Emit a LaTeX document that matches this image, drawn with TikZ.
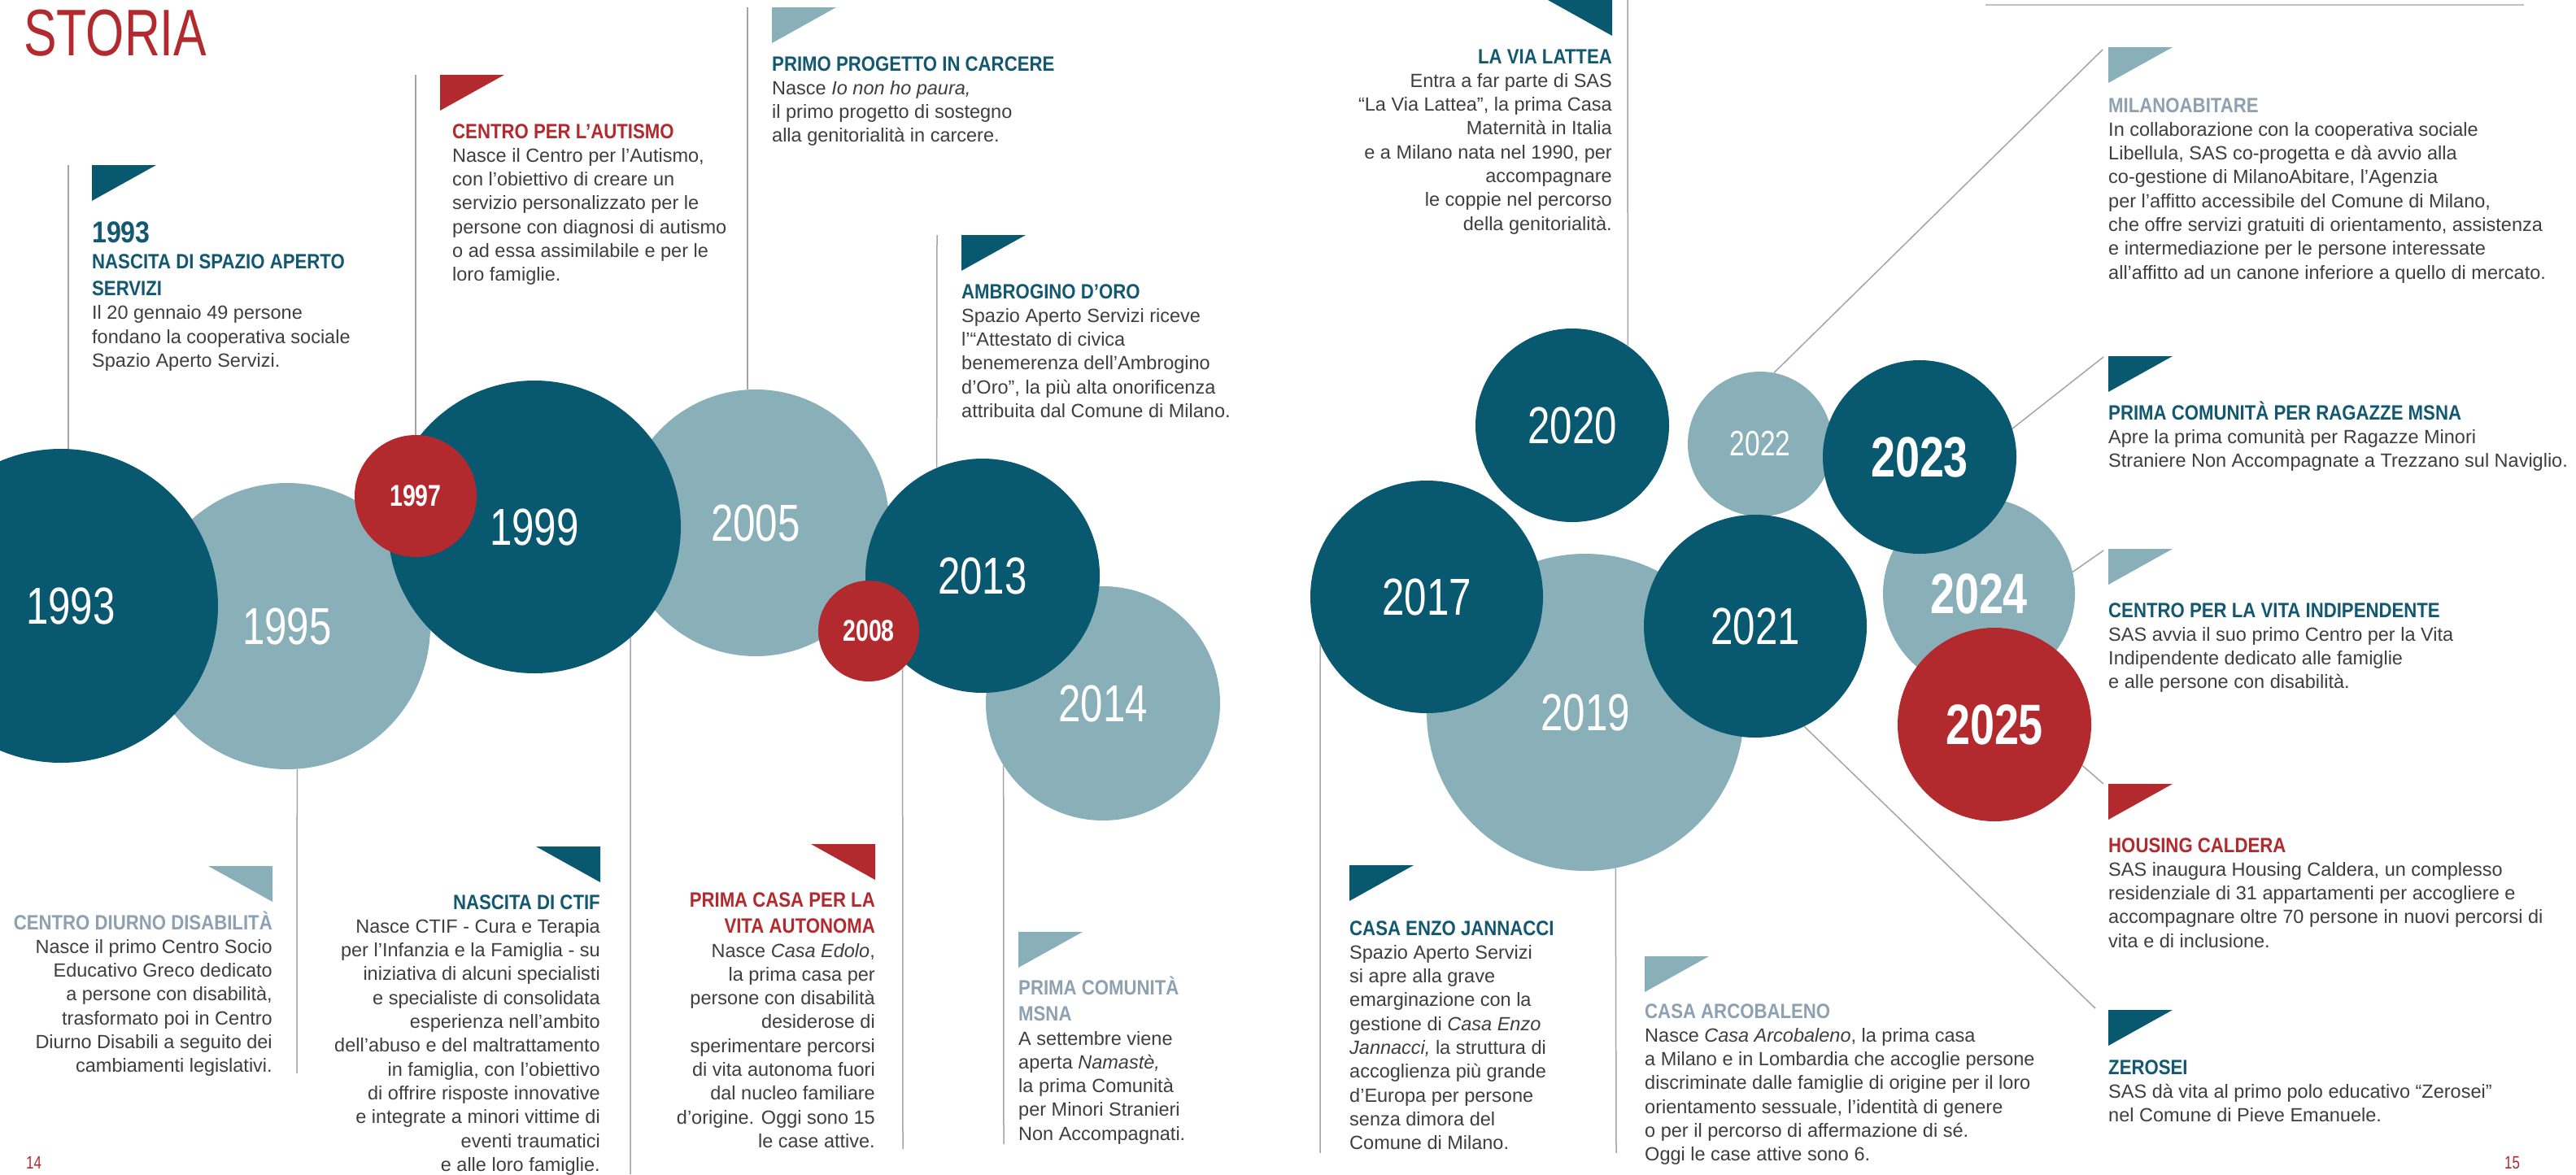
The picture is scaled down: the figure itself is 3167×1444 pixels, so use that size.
\documentclass[tikz,border=0pt]{standalone}
\usepackage{fontspec}
\setmainfont{Liberation Sans}
\newfontfamily\yearfont{Liberation Sans}[FakeStretch=0.77]
\newfontfamily\headfont{Liberation Sans}[FakeStretch=0.87]
\newfontfamily\titlefont{Liberation Sans}[FakeStretch=0.75]
\definecolor{dk}{RGB}{8,88,111}
\definecolor{lt}{RGB}{137,175,185}
\definecolor{rd}{RGB}{178,42,46}
\definecolor{hdk}{RGB}{18,88,112}
\definecolor{hlt}{RGB}{141,161,178}
\definecolor{txt}{RGB}{62,62,62}
\definecolor{ln}{RGB}{165,165,165}
\newcommand\evhead[2]{{\leavevmode\color{#1}\headfont\bfseries\fontsize{25.5}{32.7}\selectfont #2\par}}
\newcommand\evbody{\color{txt}\fontsize{23.5}{29.3}\selectfont}
\newcommand\yrR[1]{\yearfont\fontsize{#1}{#1}\selectfont}
\newcommand\yrB[1]{\yearfont\bfseries\fontsize{#1}{#1}\selectfont}
\newcommand\triL[3]{\fill[#1] (#2,#3) -- ++(79,0) -- ++(-79,44) -- cycle;}
\newcommand\triR[3]{\fill[#1] (#2,#3) -- ++(-79,0) -- ++(79,44) -- cycle;}
\begin{document}
\begin{tikzpicture}[x=1pt,y=-1pt,
  yc/.style={circle, inner sep=0pt, minimum size=#1, text=white},
  conn/.style={draw=ln, line width=1.5pt},
  blkL/.style={anchor=base west, inner sep=0pt},
  blkR/.style={anchor=base east, inner sep=0pt}]
\useasboundingbox (0,0) rectangle (3167,1444);
\fill[white] (0,0) rectangle (3167,1444);

% ---------- connector end points ----------
\coordinate (v1993) at (84,203);
\coordinate (v1997) at (511,92);
\coordinate (v2005) at (919,9);
\coordinate (v2013) at (1152,289);
\coordinate (v1995) at (365,1320);
\coordinate (v1999) at (775,1444);
\coordinate (v2008) at (1110,1413);
\coordinate (v2014) at (1234,1407);
\coordinate (v2020) at (2001,0);
\coordinate (v2017) at (1623,1418);
\coordinate (v2019) at (1987,1418);
\coordinate (m2022) at (2585,61);
\coordinate (m2023) at (2586,439);
\coordinate (m2024) at (2586,677);
\coordinate (m2025) at (2586,964);
\coordinate (m2021) at (2576,1240);
\coordinate (rl1) at (2441,6);
\coordinate (rl2) at (3103,6);

% ---------- circles (left page) ----------
\node[yc=352pt, fill=lt, font=\yrR{64}] (c1995) at (353,770) {1995};
\node[yc=386pt, fill=dk, font=\yrR{64}] (c1993) at (75,745) {\hspace*{24pt}1993};
\node[yc=328pt, fill=lt, font=\yrR{64}] (c2005) at (929,643) {2005};
\node[yc=360pt, fill=dk, font=\yrR{64}] (c1999) at (657,648) {1999};
\node[yc=150pt, fill=rd, font=\yrB{37}] (c1997) at (511,610) {1997};
\node[yc=288pt, fill=lt, font=\yrR{64}] (c2014) at (1356,865) {2014};
\node[yc=288pt, fill=dk, font=\yrR{64}] (c2013) at (1208,708) {2013};
\node[yc=124pt, fill=rd, font=\yrB{37}] (c2008) at (1068,776) {2008};

% ---------- circles (right page) ----------
\node[yc=390pt, fill=lt, font=\yrR{64}] (c2019) at (1949,876) {2019};
\node[yc=286pt, fill=dk, font=\yrR{64}] (c2017) at (1754,734) {2017};
\node[yc=238pt, fill=dk, font=\yrR{64}] (c2020) at (1933,523) {2020};
\node[yc=178pt, fill=lt, font=\yrR{43.5}] (c2022) at (2164,546) {2022};
\node[yc=274pt, fill=dk, font=\yrR{64}] (c2021) at (2158,770) {2021};
\node[yc=236pt, fill=lt, font=\yrB{70}] (c2024) at (2433,730) {2024};
\node[yc=238pt, fill=dk, font=\yrB{70}] (c2023) at (2360,562) {2023};
\node[yc=238pt, fill=rd, font=\yrB{70}] (c2025) at (2452,891) {2025};

% ---------- connectors ----------
\draw[conn] (v1993) -- (v1993 |- c1993.north);
\draw[conn] (v1997) -- (v1997 |- c1997.north);
\draw[conn] (v2005) -- (v2005 |- c2005.north);
\draw[conn] (v2013) -- (c2013.113);
\draw[conn] (v1995) -- (c1995.-86);
\draw[conn] (v1999) -- (c1999.-49);
\draw[conn] (v2008) -- (c2008.-48);
\draw[conn] (v2014) -- (c2014.-148);
\draw[conn] (v2020) -- (c2020.55);
\draw[conn] (v2017) -- (c2017.-156);
\draw[conn] (v2019) -- (c2019.-79);
\draw[conn] (m2022) -- (c2022.79);
\draw[conn] (m2023) -- (c2023.17);
\draw[conn] (m2024) -- (c2024.13);
\draw[conn] (m2025) -- (c2025.-25);
\draw[conn] (m2021) -- (c2021.-64);
\draw[draw=ln!70, line width=2pt] (rl1) -- (rl2);

% ---------- title and page numbers ----------
\node[anchor=base west, inner sep=0pt, text=rd, font=\titlefont\fontsize{81}{81}\selectfont] (title) at (29,68) {STORIA};
\node[anchor=base west, inner sep=0pt, text=rd, font=\yrR{22}] (p14) at (32,1437) {14};
\node[anchor=base west, inner sep=0pt, text=rd, font=\yrR{22}] (p15) at (3079,1437) {15};

% ---------- triangles ----------
\triL{dk}{113}{203}
\triL{rd}{541}{92}
\triL{lt}{949}{9}
\triL{dk}{1182}{289}
\triR{lt}{335}{1065}
\triR{dk}{738}{1041}
\triR{rd}{1076}{1038}
\triL{lt}{1252}{1146}
\triR{dk}{1982}{0}
\triL{dk}{1659}{1064}
\triL{lt}{2022}{1176}
\triL{lt}{2592}{58}
\triL{dk}{2592}{438}
\triL{lt}{2592}{675}
\triL{rd}{2592}{964}
\triL{dk}{2592}{1242}

% ---------- text blocks (left page) ----------
\node[blkL] (e1993) at (113,298) {\parbox[t]{600pt}{\raggedright
{\leavevmode\color{hdk}\headfont\bfseries\fontsize{37}{37}\selectfont 1993\par}%
\evhead{hdk}{NASCITA DI SPAZIO APERTO\\SERVIZI}%
\evbody Il 20 gennaio 49 persone\\fondano la cooperativa sociale\\Spazio Aperto Servizi.}};

\node[blkL] (eAut) at (556,170) {\parbox[t]{600pt}{\raggedright
\evhead{rd}{CENTRO PER L’AUTISMO}%
\evbody Nasce il Centro per l’Autismo,\\con l’obiettivo di creare un\\servizio personalizzato per le\\persone con diagnosi di autismo\\o ad essa assimilabile e per le\\loro famiglie.}};

\node[blkL] (ePrimo) at (949,87) {\parbox[t]{600pt}{\raggedright
\evhead{hdk}{PRIMO PROGETTO IN CARCERE}%
\evbody Nasce \textit{Io non ho paura,}\\il primo progetto di sostegno\\alla genitorialità in carcere.}};

\node[blkL] (eAmb) at (1182,367) {\parbox[t]{600pt}{\raggedright
\evhead{hdk}{AMBROGINO D’ORO}%
\evbody Spazio Aperto Servizi riceve\\l’“Attestato di civica\\benemerenza dell’Ambrogino\\d’Oro”, la più alta onorificenza\\attribuita dal Comune di Milano.}};

\node[blkR] (eDiurno) at (335,1143) {\parbox[t]{600pt}{\raggedleft
\evhead{hlt}{CENTRO DIURNO DISABILITÀ}%
\evbody Nasce il primo Centro Socio\\Educativo Greco dedicato\\a persone con disabilità,\\trasformato poi in Centro\\Diurno Disabili a seguito dei\\cambiamenti legislativi.}};

\node[blkR] (eCtif) at (738,1118) {\parbox[t]{600pt}{\raggedleft
\evhead{hdk}{NASCITA DI CTIF}%
\evbody Nasce CTIF - Cura e Terapia\\per l’Infanzia e la Famiglia - su\\iniziativa di alcuni specialisti\\e specialiste di consolidata\\esperienza nell’ambito\\dell’abuso e del maltrattamento\\in famiglia, con l’obiettivo\\di offrire risposte innovative\\e integrate a minori vittime di\\eventi traumatici\\e alle loro famiglie.}};

\node[blkR] (eCasa) at (1076,1115) {\parbox[t]{600pt}{\raggedleft
\evhead{rd}{PRIMA CASA PER LA\\VITA AUTONOMA}%
\evbody Nasce \textit{Casa Edolo},\\la prima casa per\\persone con disabilità\\desiderose di\\sperimentare percorsi\\di vita autonoma fuori\\dal nucleo familiare\\d’origine. Oggi sono 15\\le case attive.}};

\node[blkL] (eMsna) at (1252,1223) {\parbox[t]{600pt}{\raggedright
\evhead{hlt}{PRIMA COMUNITÀ\\MSNA}%
\evbody A settembre viene\\aperta \textit{Namastè,}\\la prima Comunità\\per Minori Stranieri\\Non Accompagnati.}};

% ---------- text blocks (right page) ----------
\node[blkR] (eLattea) at (1982,78) {\parbox[t]{600pt}{\raggedleft
\evhead{hdk}{LA VIA LATTEA}%
\evbody Entra a far parte di SAS\\“La Via Lattea”, la prima Casa\\Maternità in Italia\\e a Milano nata nel 1990, per\\accompagnare\\le coppie nel percorso\\della genitorialità.}};

\node[blkL] (eEnzo) at (1659,1150) {\parbox[t]{600pt}{\raggedright
\evhead{hdk}{CASA ENZO JANNACCI}%
\evbody Spazio Aperto Servizi\\si apre alla grave\\emarginazione con la\\gestione di \textit{Casa Enzo}\\\textit{Jannacci,} la struttura di\\accoglienza più grande\\d’Europa per persone\\senza dimora del\\Comune di Milano.}};

\node[blkL] (eArco) at (2022,1252) {\parbox[t]{800pt}{\raggedright
\evhead{hlt}{CASA ARCOBALENO}%
\evbody Nasce \textit{Casa Arcobaleno}, la prima casa\\a Milano e in Lombardia che accoglie persone\\discriminate dalle famiglie di origine per il loro\\orientamento sessuale, l’identità di genere\\o per il percorso di affermazione di sé.\\Oggi le case attive sono 6.}};

\node[blkL] (eMilano) at (2592,138) {\parbox[t]{800pt}{\raggedright
\evhead{hlt}{MILANOABITARE}%
\evbody In collaborazione con la cooperativa sociale\\Libellula, SAS co-progetta e dà avvio alla\\co-gestione di MilanoAbitare, l’Agenzia\\per l’affitto accessibile del Comune di Milano,\\che offre servizi gratuiti di orientamento, assistenza\\e intermediazione per le persone interessate\\all’affitto ad un canone inferiore a quello di mercato.}};

\node[blkL] (eRagazze) at (2592,516) {\parbox[t]{800pt}{\raggedright
\evhead{hdk}{PRIMA COMUNITÀ PER RAGAZZE MSNA}%
\evbody Apre la prima comunità per Ragazze Minori\\Straniere Non Accompagnate a Trezzano sul Naviglio.}};

\node[blkL] (eVita) at (2592,759) {\parbox[t]{800pt}{\raggedright
\evhead{hdk}{CENTRO PER LA VITA INDIPENDENTE}%
\evbody SAS avvia il suo primo Centro per la Vita\\Indipendente dedicato alle famiglie\\e alle persone con disabilità.}};

\node[blkL] (eHousing) at (2592,1048) {\parbox[t]{800pt}{\raggedright
\evhead{rd}{HOUSING CALDERA}%
\evbody SAS inaugura Housing Caldera, un complesso\\residenziale di 31 appartamenti per accogliere e\\accompagnare oltre 70 persone in nuovi percorsi di\\vita e di inclusione.}};

\node[blkL] (eZero) at (2592,1321) {\parbox[t]{800pt}{\raggedright
\evhead{hdk}{ZEROSEI}%
\evbody SAS dà vita al primo polo educativo “Zerosei”\\nel Comune di Pieve Emanuele.}};
\end{tikzpicture}
\end{document}
